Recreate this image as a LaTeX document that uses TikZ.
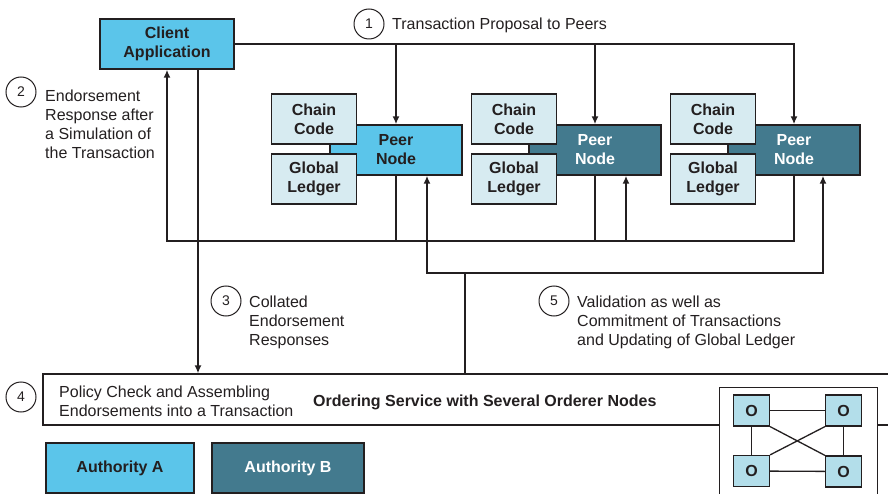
\documentclass[tikz,border=0pt]{standalone}
\usepackage{fontspec}
\setmainfont{Liberation Sans}
\usetikzlibrary{arrows.meta}
\definecolor{cyanA}{HTML}{5BC5EA}
\definecolor{tealB}{HTML}{437A8E}
\definecolor{storefill}{HTML}{D7EBF1}
\definecolor{orderfill}{HTML}{B3DEEA}
\definecolor{ink}{HTML}{231F20}
\begin{document}
\begin{tikzpicture}[x=1pt,y=-1pt,color=ink,
    block/.style={draw=ink,line width=1.4pt,inner sep=0pt,align=center,
      minimum height=50pt,font=\bfseries\fontsize{16}{19}\selectfont},
    lightblock/.style={block,fill=cyanA,text=ink},
    darkblock/.style={block,fill=tealB,text=white},
    storeblock/.style={block,fill=storefill,text=ink,minimum width=85pt},
    orderblock/.style={draw=ink,line width=1.3pt,fill=orderfill,inner sep=0pt,
      minimum width=36pt,minimum height=31pt,font=\bfseries\fontsize{16}{19}\selectfont},
    stepnum/.style={circle,draw=ink,line width=1pt,minimum size=30pt,inner sep=0pt,
      font=\fontsize{14}{14}\selectfont},
    note/.style={inner sep=0pt,align=left,font=\fontsize{16}{19}\selectfont},
    wire/.style={line width=1.8pt,draw=ink},
    >={Latex[length=8pt,width=7pt]}]
  \clip (0,0) rectangle (888,494);
  \node[lightblock,minimum width=134pt] (client) at (167,44) {Client\\Application};
  \node[lightblock,minimum width=132pt] (peer1) at (396,150) {Peer\\Node};
  \node[darkblock,minimum width=132pt] (peer2) at (595,150) {Peer\\Node};
  \node[darkblock,minimum width=132pt] (peer3) at (794,150) {Peer\\Node};
  \node[storeblock] (code1) at (314,119) {Chain\\Code};
  \node[storeblock] (ledger1) at (314,179) {Global\\Ledger};
  \node[storeblock] (code2) at (514,119) {Chain\\Code};
  \node[storeblock] (ledger2) at (514,179) {Global\\Ledger};
  \node[storeblock] (code3) at (713,119) {Chain\\Code};
  \node[storeblock] (ledger3) at (713,179) {Global\\Ledger};
  \node[draw=ink,line width=1.2pt,minimum width=860pt,minimum height=51pt] (order) at (473,399.5) {};
  \node[lightblock,minimum width=148pt] (authA) at (120,468) {Authority A};
  \node[darkblock,minimum width=152pt] (authB) at (288,468) {Authority B};
  \node[draw=ink,line width=1.2pt,fill=white,minimum width=158pt,minimum height=120pt,
    anchor=north west] (cluster) at (719,387) {};
  \node[orderblock] (o1) at (751.5,410.5) {O};
  \node[orderblock] (o2) at (843.5,410.5) {O};
  \node[orderblock] (o3) at (751.5,471) {O};
  \node[orderblock] (o4) at (843.5,471.5) {O};
  \node[stepnum] (n1) at (369,24) {1};
  \node[stepnum] (n2) at (21,92) {2};
  \node[stepnum] (n3) at (226,301) {3};
  \node[stepnum] (n4) at (21,397) {4};
  \node[stepnum] (n5) at (554,301) {5};
  \node[note,anchor=base west] (t1) at (392,30) {Transaction Proposal to Peers};
  \node[note,anchor=north west] (t2) at (45,89.5) {Endorsement\\Response after\\a Simulation of\\the Transaction};
  \node[note,anchor=north west] (t3) at (249,295.5) {Collated\\Endorsement\\Responses};
  \node[note,anchor=north west] (t4) at (59,385.5) {Policy Check and Assembling\\Endorsements into a Transaction};
  \node[note,anchor=north west] (t5) at (577,295.5) {Validation as well as\\Commitment of Transactions\\and Updating of Global Ledger};
  \node[note,anchor=base west,font=\bfseries\fontsize{16}{19}\selectfont] (t6) at (313,406) {Ordering Service with Several Orderer Nodes};
  \coordinate (resp) at (167,241);
  \coordinate (valid) at (465,273);
  \coordinate (down0) at ([xshift=31pt]client.south);
  \coordinate (up1) at ([xshift=31pt]peer1.south);
  \coordinate (up2) at ([xshift=31pt]peer2.south);
  \coordinate (up3) at ([xshift=29pt]peer3.south);
  \begin{scope}[wire]
    \draw[->] (client.east) -| (peer3.north);
    \draw[->] (client.east -| peer1.north) -- (peer1.north);
    \draw[->] (client.east -| peer2.north) -- (peer2.north);
    \draw[->] (peer3.south) |- (resp) -- (client.south);
    \draw (peer1.south) -- (peer1.south |- resp);
    \draw (peer2.south) -- (peer2.south |- resp);
    \draw[->] (up2 |- resp) -- (up2);
    \draw[->] (valid) -| (up1);
    \draw[->] (valid) -| (up3);
    \draw (order.north -| valid) -- (valid);
    \draw[->] (down0) -- (down0 |- order.north);
  \end{scope}
  \begin{scope}[line width=1.3pt]
    \draw (o1) -- (o2);
    \draw (o3) -- (o4);
    \draw (o1) -- (o3);
    \draw (o2) -- (o4);
    \draw (o1.south east) -- (o4.north west);
    \draw (o3.north east) -- (o2.south west);
  \end{scope}
\end{tikzpicture}
\end{document}
